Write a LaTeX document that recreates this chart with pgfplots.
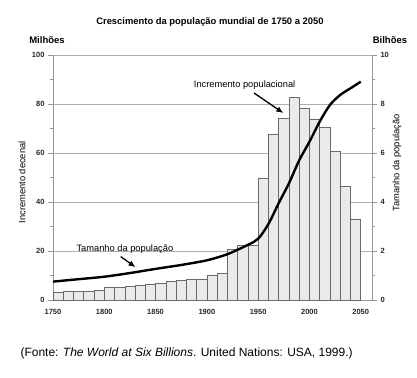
\documentclass[border=0pt]{standalone}
\usepackage{pgfplots}
\pgfplotsset{compat=1.18}
\usepackage{fontspec}
\setmainfont{Liberation Sans}
\usetikzlibrary{arrows.meta}
\definecolor{axgray}{RGB}{150,150,150}
\definecolor{gridgray}{RGB}{175,175,175}
\definecolor{barfill}{RGB}{234,234,234}
\definecolor{baredge}{RGB}{105,105,105}
\definecolor{ticktext}{RGB}{40,40,40}
\begin{document}
\begin{tikzpicture}
\pgfplotsset{
  common/.style={
    scale only axis, width=319pt, height=245pt,
    xmin=1750, xmax=2061,
    /pgf/number format/assume math mode=true,
    /pgf/number format/1000 sep={},
    tick label style={font=\fontsize{7.5}{9}\selectfont\bfseries, text=ticktext},
    label style={font=\fontsize{9.3}{11}\selectfont},
    tick align=outside,
    major tick length=5pt, minor tick length=3pt,
    every tick/.style={axgray, line width=0.6pt},
    axis line style={axgray, line width=0.8pt},
    clip=false,
  }
}
\begin{axis}[common,
  axis y line*=left, axis x line*=bottom,
  ymin=0, ymax=100,
  ytick={0,20,...,100}, minor ytick={10,30,...,90},
  xtick={1750,1800,...,2050},
  xtick style={draw=none},
  x tick label style={yshift=-1pt},
  ymajorgrids, grid style={gridgray, line width=0.6pt},
  ylabel={Incremento decenal},
  ylabel style={at={(rel axis cs:0,0.48)}, anchor=center, yshift=31pt},
]
\addplot[ybar interval, fill=barfill, draw=baredge, line width=0.6pt] coordinates {
(1750,3.2)(1760,3.5)(1770,3.5)(1780,3.5)(1790,4.1)(1800,5.0)(1810,5.3)(1820,5.7)
(1830,6.0)(1840,6.6)(1850,7.0)(1860,7.5)(1870,8.0)(1880,8.6)(1890,8.6)(1900,10.0)
(1910,10.9)(1920,20.8)(1930,22.4)(1940,22.4)(1950,49.8)(1960,67.6)(1970,74.1)
(1980,82.7)(1990,78.2)(2000,73.9)(2010,70.5)(2020,60.7)(2030,46.3)(2040,32.9)(2050,0)};
\coordinate (sw) at (rel axis cs:0,0);
\coordinate (ne) at (rel axis cs:1,1);
\node[anchor=west, font=\fontsize{9.3}{11}\selectfont] at (axis cs:1884,87.8) {Incremento populacional};
\draw[-{Latex[length=7pt,width=6pt]}, line width=1.3pt] (axis cs:1946,84.5) -- (axis cs:1974.5,76.3);
\node[anchor=west, font=\fontsize{9.3}{11}\selectfont] at (axis cs:1769.5,20.8) {Tamanho da população};
\draw[-{Latex[length=7pt,width=6pt]}, line width=1.3pt] (axis cs:1816,17.7) -- (axis cs:1830.5,13.4);
\node[font=\fontsize{9.4}{11}\selectfont\bfseries, yshift=33pt] at (rel axis cs:0.492,1) {Crescimento da população mundial de 1750 a 2050};
\node[font=\fontsize{9.5}{11}\selectfont\bfseries, xshift=-6pt, yshift=15pt] at (rel axis cs:0,1) {Milhões};
\node[font=\fontsize{9.5}{11}\selectfont\bfseries, xshift=18pt, yshift=15pt] at (rel axis cs:1,1) {Bilhões};
\node[anchor=west, font=\fontsize{12}{14}\selectfont, xshift=-36pt, yshift=-53pt] at (rel axis cs:0,0) {(Fonte: \textit{The World at Six Billions}. United Nations: USA, 1999.)};
\end{axis}
\begin{axis}[common,
  axis y line*=right, axis x line=none,
  ymin=0, ymax=10,
  ytick={0,2,...,10}, minor ytick={1,3,...,9},
  ylabel={Tamanho da população},
  ylabel style={at={(rel axis cs:1,0.56)}, anchor=center, yshift=-25pt},
]
\addplot[black, line width=2.4pt, smooth, tension=0.5] coordinates {
(1750,0.75)(1775,0.85)(1800,0.95)(1825,1.1)(1850,1.27)(1875,1.43)(1900,1.62)(1920,1.87)
(1940,2.25)(1950,2.5)(1960,3.1)(1970,3.95)(1980,4.76)(1990,5.7)(2000,6.46)
(2010,7.28)(2020,7.96)(2030,8.37)(2040,8.64)(2050,8.91)};
\end{axis}
\pgfresetboundingbox
\path ([shift={(-53pt,-77pt)}]sw) rectangle ([shift={(45pt,55pt)}]ne);
\end{tikzpicture}
\end{document}
